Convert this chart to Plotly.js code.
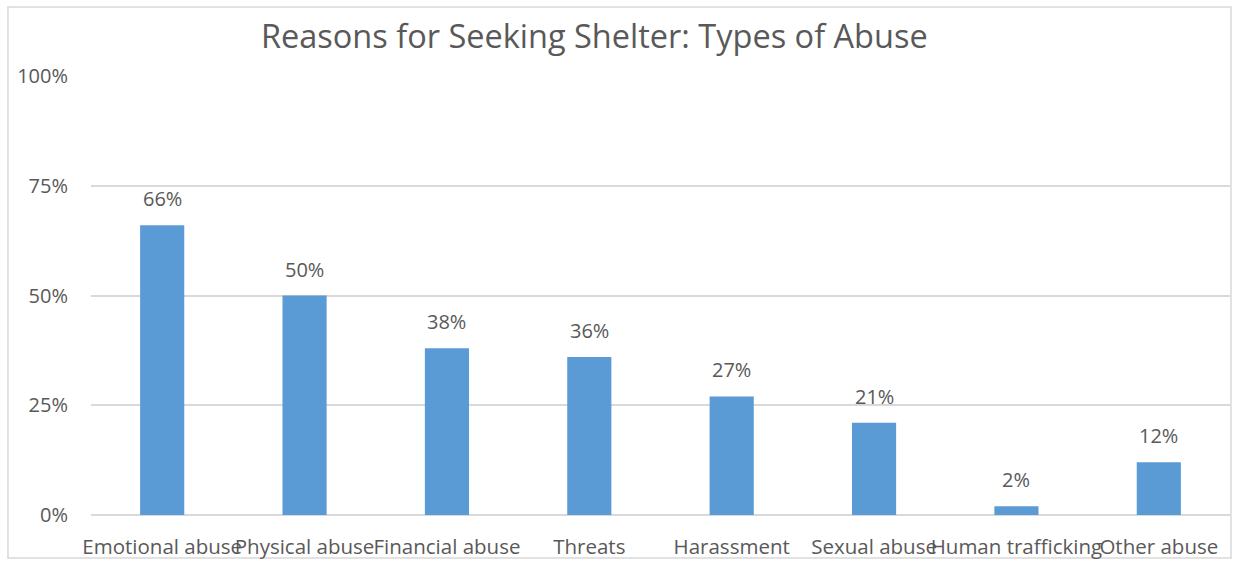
<!DOCTYPE html>
<html>
<head>
<meta charset="utf-8">
<script src="https://cdn.plot.ly/plotly-3.0.1.min.js"></script>
<style>
html,body{margin:0;padding:0;background:#fff;}
#chart{width:1233px;height:561px;}
</style>
</head>
<body>
<div id="chart"></div>
<script>
const categories = ["Emotional abuse","Physical abuse","Financial abuse","Threats","Harassment","Sexual abuse","Human trafficking","Other abuse"];
const values = [0.66, 0.50, 0.38, 0.36, 0.27, 0.21, 0.02, 0.12];
const tickVals = [0, 0.25, 0.5, 0.75, 1];
const tickText = ["0%","25%","50%","75%","100%"];
const labelText = values.map(v => Math.round(v*100) + "%");

const font = "Open Sans, Calibri, sans-serif";
const textColor = "#595959";

const trace = {
  type: "bar",
  x: categories,
  y: values,
  marker: {color: "#5B9BD5"},
  hoverinfo: "none"
};

const annotations = categories.map((c, i) => ({
  x: c, y: values[i], xref: "x", yref: "y",
  text: labelText[i], showarrow: false,
  yanchor: "bottom", yshift: 11,
  font: {family: font, size: 20, color: textColor}
}));

const layout = {
  width: 1233, height: 561,
  margin: {l: 91, r: 3, t: 76, b: 46},
  paper_bgcolor: "#fff", plot_bgcolor: "#fff",
  bargap: 0.69,
  showlegend: false,
  title: {
    text: "Reasons for Seeking Shelter: Types of Abuse",
    font: {family: font, size: 32.5, color: textColor},
    x: 0.482, xref: "container", xanchor: "center",
    y: 0.935, yref: "container", yanchor: "middle"
  },
  xaxis: {
    type: "category",
    showgrid: false, zeroline: false,
    showline: false, automargin: false,
    tickangle: 0,
    tickfont: {family: font, size: 20.5, color: textColor},
    ticks: "", ticklabelstandoff: 17
  },
  yaxis: {
    range: [0, 1], automargin: false,
    tickvals: tickVals, ticktext: tickText,
    showgrid: true, gridcolor: "#D9D9D9", gridwidth: 2,
    zeroline: true, zerolinecolor: "#D9D9D9", zerolinewidth: 2,
    showline: false, ticks: "",
    ticklabelstandoff: 22,
    tickfont: {family: font, size: 20, color: textColor}
  },
  annotations: annotations,
  shapes: [{
    type: "rect", xref: "paper", yref: "paper",
    x0: -0.0729, x1: 1.0009, y0: -0.098, y1: 1.157,
    line: {color: "#D9D9D9", width: 1.5}, fillcolor: "rgba(0,0,0,0)",
    layer: "below"
  }]
};

Plotly.newPlot("chart", [trace], layout, {displayModeBar: false, staticPlot: true});
</script>
</body>
</html>
